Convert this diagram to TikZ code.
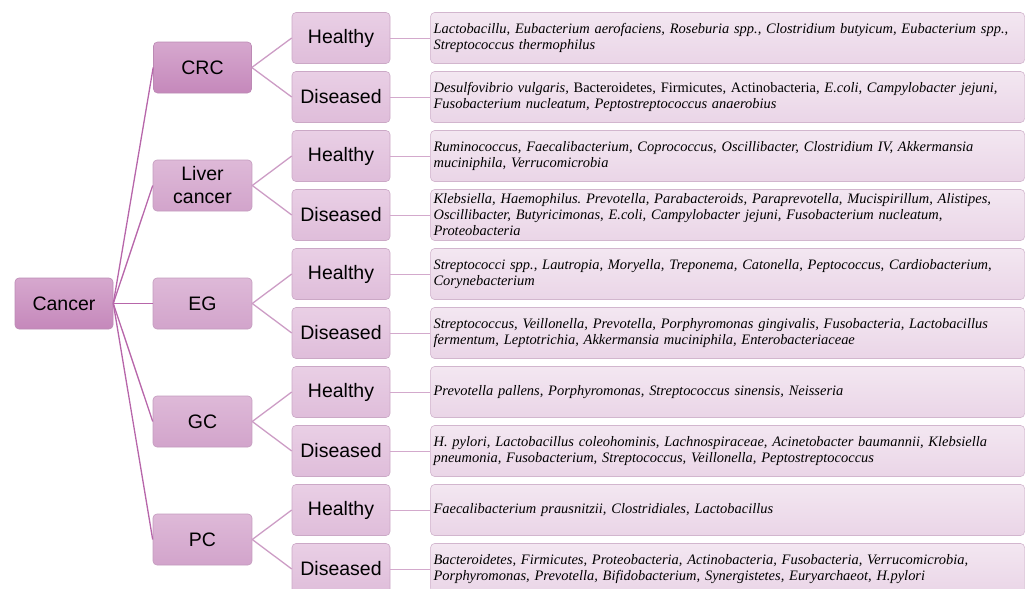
\documentclass[tikz,border=0pt]{standalone}
\usepackage{fontspec}
\setmainfont{Liberation Serif}
\setsansfont{Liberation Sans}
\usetikzlibrary{positioning}

\definecolor{darktop}{HTML}{D6A8CE}
\definecolor{darkbottom}{HTML}{C588BB}
\definecolor{darkedge}{HTML}{BC8AB4}
\definecolor{midtop}{HTML}{DEB9D8}
\definecolor{midbottom}{HTML}{D2A4CB}
\definecolor{midedge}{HTML}{C39BBD}
\definecolor{leaftop}{HTML}{E9CFE5}
\definecolor{leafbottom}{HTML}{DFBDDA}
\definecolor{leafedge}{HTML}{CBA8C6}
\definecolor{listtop}{HTML}{F3E7F1}
\definecolor{listbottom}{HTML}{EAD5E7}
\definecolor{listedge}{HTML}{D2B6CE}
\definecolor{trunkcol}{HTML}{B766AA}
\definecolor{branchcol}{HTML}{CC9CC5}
\definecolor{twigcol}{HTML}{D3A9CC}

\tikzset{
  nodebox/.style={rounded corners=4pt, line width=0.6pt, minimum width=98pt,
    minimum height=51pt, inner sep=2pt, align=center, text=black,
    font=\sffamily\fontsize{19.5}{23}\selectfont},
  darkbox/.style={nodebox, draw=darkedge, top color=darktop, bottom color=darkbottom},
  midbox/.style={nodebox, draw=midedge, top color=midtop, bottom color=midbottom, minimum width=99pt},
  leafbox/.style={nodebox, draw=leafedge, top color=leaftop, bottom color=leafbottom},
  listbox/.style={rounded corners=4pt, line width=0.6pt, draw=listedge,
    top color=listtop, bottom color=listbottom, text width=588pt, inner xsep=3pt,
    inner ysep=2pt, minimum height=51pt, align=left, text=black,
    font=\itshape\frenchspacing\fontsize{14.45}{16}\selectfont},
  trunk/.style={draw=trunkcol, line width=1.3pt},
  branch/.style={draw=branchcol, line width=1.3pt},
  twig/.style={draw=twigcol, line width=0.9pt},
}

\begin{document}
\begin{tikzpicture}[x=1pt,y=-1pt]
  \useasboundingbox (0,0) rectangle (1029,589);
  % cancer
  \node[darkbox] (cancer) at (64,303.5) {Cancer};
  % cancer types
  \node[darkbox] (crc) at (202.5,67.5) {CRC};
  \node[midbox] (liver) at (202.5,185.5) {Liver\\cancer};
  \node[midbox] (eg) at (202.5,303.5) {EG};
  \node[midbox] (gc) at (202.5,421.5) {GC};
  \node[midbox] (pc) at (202.5,539.5) {PC};
  % healthy / diseased
  \node[leafbox] (crc-h) at (341,38) {Healthy};
  \node[leafbox] (crc-d) at (341,97) {Diseased};
  \node[leafbox] (liver-h) at (341,156) {Healthy};
  \node[leafbox] (liver-d) at (341,215) {Diseased};
  \node[leafbox] (eg-h) at (341,274) {Healthy};
  \node[leafbox] (eg-d) at (341,333) {Diseased};
  \node[leafbox] (gc-h) at (341,392) {Healthy};
  \node[leafbox] (gc-d) at (341,451) {Diseased};
  \node[leafbox] (pc-h) at (341,510) {Healthy};
  \node[leafbox] (pc-d) at (341,569) {Diseased};
  % bacteria lists
  \node[listbox, right=40pt of crc-h] (crc-h-list)
    {Lactobacillu, Eubacterium aerofaciens, Roseburia spp., Clostridium butyicum, Eubacterium spp.,\\
     Streptococcus thermophilus};
  \node[listbox, right=40pt of crc-d] (crc-d-list)
    {Desulfovibrio vulgaris, \textup{Bacteroidetes, Firmicutes, Actinobacteria,} E.coli, Campylobacter jejuni,\\
     Fusobacterium nucleatum, Peptostreptococcus anaerobius};
  \node[listbox, right=40pt of liver-h] (liver-h-list)
    {Ruminococcus, Faecalibacterium, Coprococcus, Oscillibacter, Clostridium IV, Akkermansia\\
     muciniphila, Verrucomicrobia};
  \node[listbox, right=40pt of liver-d] (liver-d-list)
    {Klebsiella, Haemophilus. Prevotella, Parabacteroids, Paraprevotella, Mucispirillum, Alistipes,\\
     Oscillibacter, Butyricimonas, E.coli, Campylobacter jejuni, Fusobacterium nucleatum,\\
     Proteobacteria};
  \node[listbox, right=40pt of eg-h] (eg-h-list)
    {Streptococci spp., Lautropia, Moryella, Treponema, Catonella, Peptococcus, Cardiobacterium,\\
     Corynebacterium};
  \node[listbox, right=40pt of eg-d] (eg-d-list)
    {Streptococcus, Veillonella, Prevotella, Porphyromonas gingivalis, Fusobacteria, Lactobacillus\\
     fermentum, Leptotrichia, Akkermansia muciniphila, Enterobacteriaceae};
  \node[listbox, right=40pt of gc-h] (gc-h-list)
    {Prevotella pallens, Porphyromonas, Streptococcus sinensis, Neisseria};
  \node[listbox, right=40pt of gc-d] (gc-d-list)
    {H. pylori, Lactobacillus coleohominis, Lachnospiraceae, Acinetobacter baumannii, Klebsiella\\
     pneumonia, Fusobacterium, Streptococcus, Veillonella, Peptostreptococcus};
  \node[listbox, right=40pt of pc-h] (pc-h-list)
    {Faecalibacterium prausnitzii, Clostridiales, Lactobacillus};
  \node[listbox, right=40pt of pc-d] (pc-d-list)
    {Bacteroidetes, Firmicutes, Proteobacteria, Actinobacteria, Fusobacteria, Verrucomicrobia,\\
     Porphyromonas, Prevotella, Bifidobacterium, Synergistetes, Euryarchaeot, H.pylori};
  % connectors
  \draw[trunk] (cancer.east) -- (crc.west);
  \draw[trunk] (cancer.east) -- (liver.west);
  \draw[trunk] (cancer.east) -- (eg.west);
  \draw[trunk] (cancer.east) -- (gc.west);
  \draw[trunk] (cancer.east) -- (pc.west);
  \draw[branch] (crc.east) -- (crc-h.west);
  \draw[branch] (crc.east) -- (crc-d.west);
  \draw[branch] (liver.east) -- (liver-h.west);
  \draw[branch] (liver.east) -- (liver-d.west);
  \draw[branch] (eg.east) -- (eg-h.west);
  \draw[branch] (eg.east) -- (eg-d.west);
  \draw[branch] (gc.east) -- (gc-h.west);
  \draw[branch] (gc.east) -- (gc-d.west);
  \draw[branch] (pc.east) -- (pc-h.west);
  \draw[branch] (pc.east) -- (pc-d.west);
  \draw[twig] (crc-h) -- (crc-h-list);
  \draw[twig] (crc-d) -- (crc-d-list);
  \draw[twig] (liver-h) -- (liver-h-list);
  \draw[twig] (liver-d) -- (liver-d-list);
  \draw[twig] (eg-h) -- (eg-h-list);
  \draw[twig] (eg-d) -- (eg-d-list);
  \draw[twig] (gc-h) -- (gc-h-list);
  \draw[twig] (gc-d) -- (gc-d-list);
  \draw[twig] (pc-h) -- (pc-h-list);
  \draw[twig] (pc-d) -- (pc-d-list);
\end{tikzpicture}
\end{document}
